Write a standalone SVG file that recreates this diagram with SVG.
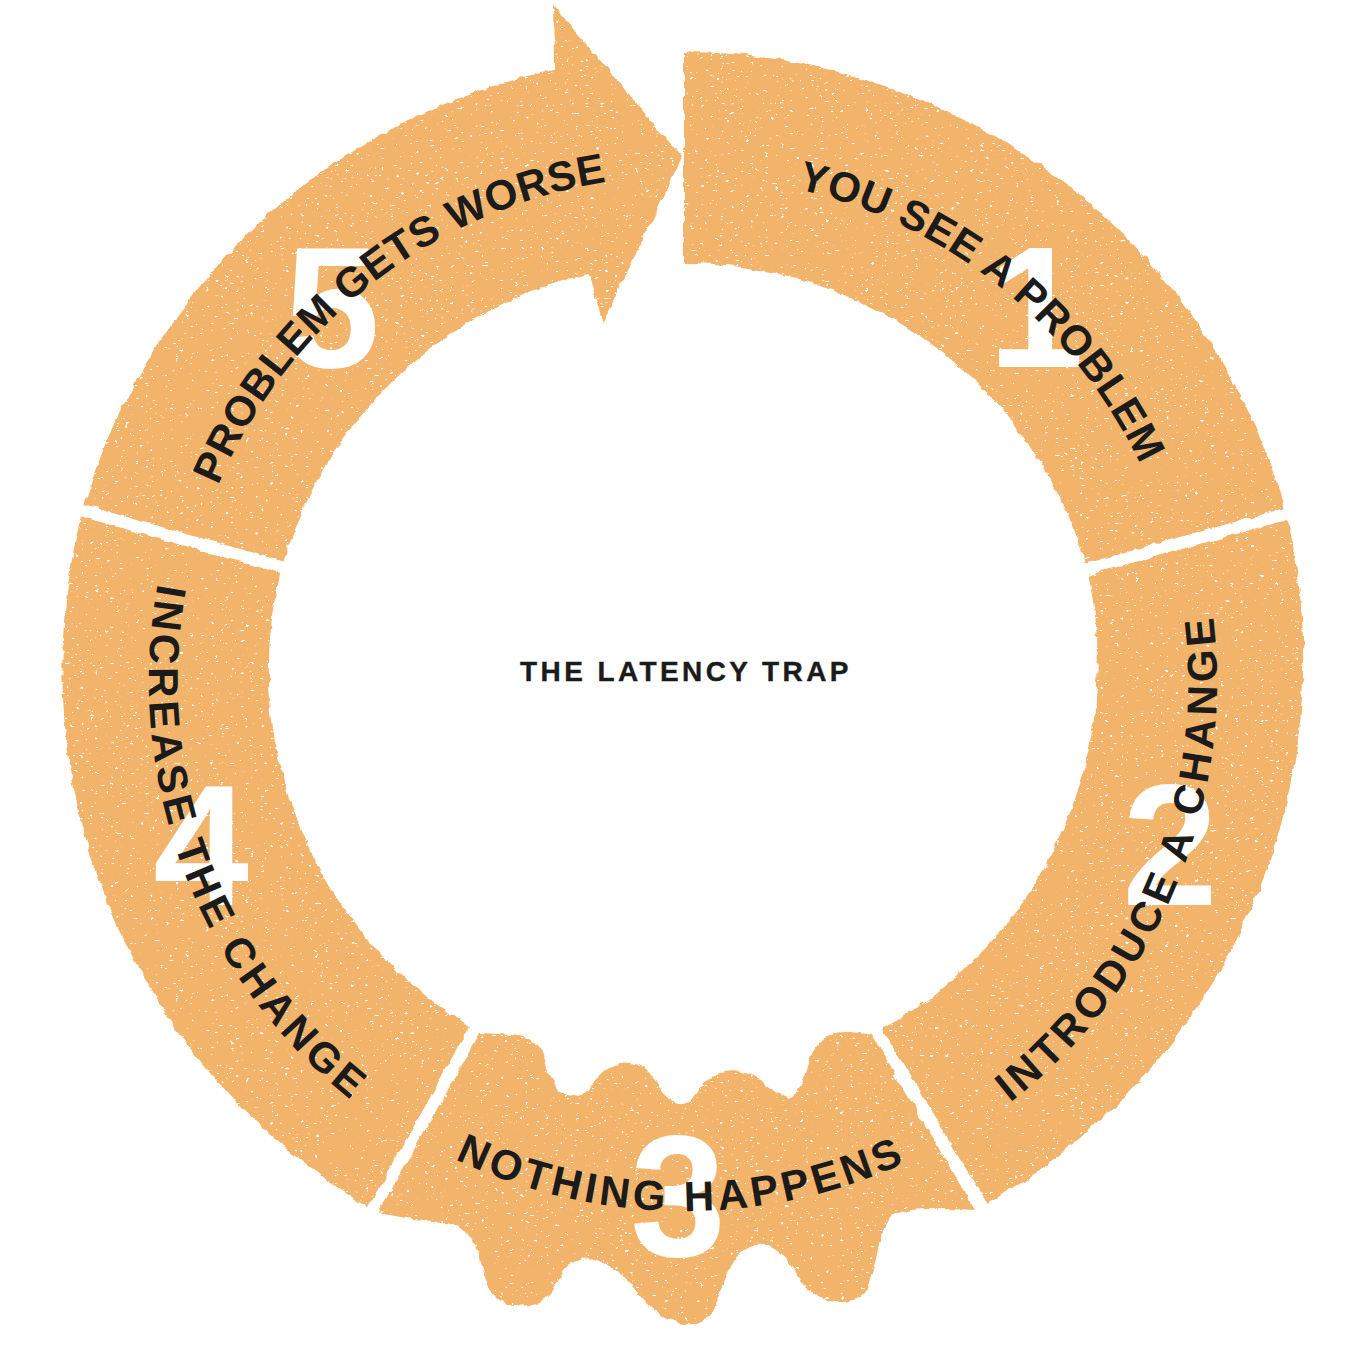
<svg xmlns="http://www.w3.org/2000/svg" xmlns:xlink="http://www.w3.org/1999/xlink" width="1356" height="1346" viewBox="0 0 1356 1346">
<defs>
<style>
.seg{fill:#F2B46A;filter:url(#grunge);}
.num{font-family:"Liberation Sans",Arial,sans-serif;font-weight:bold;font-size:172px;fill:#ffffff;text-anchor:middle;}
.lbl{font-family:"Liberation Sans",Arial,sans-serif;font-weight:bold;font-size:42px;fill:#1b1b1b;}
.cw{letter-spacing:0.5px;}
.ccw{letter-spacing:4px;}
.title{font-family:"Liberation Sans",Arial,sans-serif;font-weight:bold;font-size:28px;fill:#1b1b1b;letter-spacing:3.4px;text-anchor:middle;stroke:#1b1b1b;stroke-width:0.4px;}
</style>
<filter id="grunge" x="-4%" y="-4%" width="108%" height="108%" color-interpolation-filters="sRGB">
<feTurbulence type="fractalNoise" baseFrequency="0.08" numOctaves="3" seed="4" result="w"/>
<feDisplacementMap in="SourceGraphic" in2="w" scale="6" xChannelSelector="R" yChannelSelector="G" result="s"/>
<feTurbulence type="fractalNoise" baseFrequency="0.2 0.4" numOctaves="2" seed="9" result="n"/>
<feColorMatrix in="n" type="matrix" values="0 0 0 0 1  0 0 0 0 1  0 0 0 0 1  22 0 0 0 -15.6" result="sp"/>
<feComposite in="sp" in2="s" operator="in" result="spi"/>
<feMerge><feMergeNode in="s"/><feMergeNode in="spi"/></feMerge>
</filter>
<path id="p1" d="M501.4,210.2 A505,505 0 0 1 1183.0,758.3"/>
<path id="p2" d="M753.6,1209.4 A533,533 0 0 0 1106.9,356.5"/>
<path id="p3" d="M223.6,943.6 A530,530 0 0 0 1141.6,948.4"/>
<path id="p4" d="M270,342.1 A535,535 0 0 0 597.5,1209"/>
<path id="p5" d="M183.9,751.3 A505,505 0 0 1 873.2,212.8"/>
</defs>
<rect width="1356" height="1346" fill="#ffffff"/>
<g id="connectors"/>
<g id="step1">
<path class="seg" d="M684,52 A627,627 0 0 1 1284.6,508.2 L1085.2,563.5 A418,418 0 0 0 684,263 Z"/>
<text class="num" x="1036" y="367">1</text>
<text class="lbl cw"><textPath href="#p1" xlink:href="#p1" startOffset="50%" text-anchor="middle">YOU SEE A PROBLEM</textPath></text>
</g>
<g id="step2">
<path class="seg" d="M1287.8,519.8 A627,627 0 0 1 987,1203 L882,1029 A418,418 0 0 0 1088.3,575.1 Z"/>
<text class="num" x="1170" y="905">2</text>
<text class="lbl ccw"><textPath href="#p2" xlink:href="#p2" startOffset="50%" text-anchor="middle">INTRODUCE A CHANGE</textPath></text>
</g>
<g id="step3">
<path class="seg" d="M872,1035 Q850,1031 838,1032.5 Q826,1034 818,1044.5 Q810,1055 807.5,1067.5 Q805,1080 798.5,1089 Q792,1103 782,1095 Q772,1092 762,1082 Q752,1072 738.5,1070.5 Q725,1069 715,1075.5 Q705,1082 693.5,1095 Q682,1114 671,1098 Q660,1088 652.5,1077 Q645,1066 632.5,1063.5 Q620,1061 611.5,1065.5 Q603,1070 594,1081.5 Q585,1099 575.5,1095 Q566,1097 558.5,1090 Q551,1083 548,1071.5 Q545,1060 541.5,1050 Q538,1040 524,1037 Q510,1034 480,1033 L378,1213 Q410,1219 432.5,1221 Q455,1223 464.5,1230.5 Q474,1238 477.5,1253 Q481,1268 486.5,1282 Q492,1296 502,1301.5 Q512,1307 524,1306.5 Q536,1306 545,1298 Q554,1290 559.5,1278.5 Q565,1267 575,1261.5 Q585,1256 595.5,1259.5 Q606,1263 617,1271.5 Q628,1280 636.5,1291.5 Q645,1303 655,1311.5 Q665,1320 678.5,1323 Q692,1326 702,1322 Q712,1318 717,1301.5 Q722,1285 730,1268.5 Q738,1252 750,1247 Q762,1242 773.5,1248.5 Q785,1255 792.5,1268.5 Q800,1282 810,1290.5 Q820,1299 832.5,1301.5 Q845,1304 855,1299 Q865,1294 869.5,1281 Q874,1268 877.5,1251.5 Q881,1235 887,1223.5 Q893,1212 911.5,1210 Q930,1208 975,1210 Z"/>
<text class="num" x="678" y="1256">3</text>
<text class="lbl ccw"><textPath href="#p3" xlink:href="#p3" startOffset="50%" text-anchor="middle">NOTHING HAPPENS</textPath></text>
</g>
<g id="step4">
<path class="seg" d="M368,1207 A627,627 0 0 1 81.0,516.6 L280.2,572.9 A418,418 0 0 0 470,1027 Z"/>
<text class="num" x="201" y="905">4</text>
<text class="lbl ccw"><textPath href="#p4" xlink:href="#p4" startOffset="50%" text-anchor="middle">INCREASE THE CHANGE</textPath></text>
</g>
<g id="step5">
<path class="seg" d="M84.2,505.1 A627,627 0 0 1 554.1,69.7 L553,5 L682,157 L603,323 L588.5,274 A418,418 0 0 0 283.5,561.5 Z"/>
<text class="num" x="332" y="367">5</text>
<text class="lbl cw"><textPath href="#p5" xlink:href="#p5" startOffset="50%" text-anchor="middle">PROBLEM GETS WORSE</textPath></text>
</g>
<g id="title">
<text class="title" x="686" y="681">THE LATENCY TRAP</text>
</g>
</svg>
